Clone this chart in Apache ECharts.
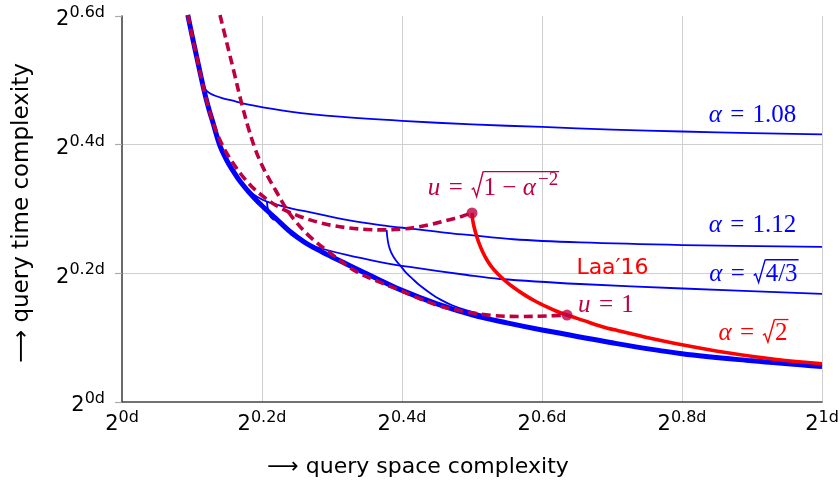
<!DOCTYPE html>
<html><head><meta charset="utf-8">
<script src="https://cdn.jsdelivr.net/npm/echarts@6/dist/echarts.min.js"></script>
<style>html,body{margin:0;padding:0;background:#fff}#c{width:840px;height:488px}</style>
</head><body><div id="c"></div>
<script>
// ---------- data (exponents of 2^{x d}) ----------
const xTickValues = [0, 0.2, 0.4, 0.6, 0.8, 1];
const xTickExps = ['0d', '0.2d', '0.4d', '0.6d', '0.8d', '1d'];
const yTickValues = [0, 0.2, 0.4, 0.6];
const yTickExps = ['0d', '0.2d', '0.4d', '0.6d'];

// lower envelope (thick blue)
const envX = [0.094, 0.1, 0.105, 0.11, 0.115, 0.12, 0.125, 0.13, 0.14, 0.15, 0.16, 0.17, 0.18, 0.19, 0.2, 0.22, 0.24, 0.26, 0.28, 0.3, 0.33, 0.36, 0.4, 0.45, 0.5, 0.55, 0.6, 0.7, 0.8, 0.9, 1.0];
const envY = [0.6016, 0.57, 0.545, 0.52, 0.495, 0.472, 0.452, 0.434, 0.398, 0.375, 0.357, 0.341, 0.328, 0.316, 0.305, 0.285, 0.265, 0.249, 0.2365, 0.2255, 0.2095, 0.194, 0.1735, 0.1525, 0.1355, 0.123, 0.112, 0.092, 0.075, 0.064, 0.055];

// alpha = 1.08
const a108X = [0.1143, 0.117, 0.121, 0.126, 0.133, 0.143, 0.154, 0.187, 0.24, 0.311, 0.4, 0.5, 0.6, 0.7, 0.8, 0.9, 1.0];
const a108Y = [0.497, 0.4885, 0.4835, 0.4795, 0.476, 0.4725, 0.4695, 0.461, 0.4515, 0.4435, 0.437, 0.4315, 0.4275, 0.4235, 0.4205, 0.418, 0.416];

// alpha = 1.12
const a112X = [0.179, 0.193, 0.207, 0.24, 0.273, 0.321, 0.369, 0.416, 0.464, 0.559, 0.654, 0.801, 1.0];
const a112Y = [0.330, 0.319, 0.3115, 0.3015, 0.294, 0.283, 0.275, 0.269, 0.263, 0.253, 0.248, 0.244, 0.241];
const a112HookX = [0.207, 0.2086, 0.2114, 0.2171];
const a112HookY = [0.311, 0.2985, 0.2891, 0.2829];

// alpha = sqrt(4/3)
const a43X = [0.24, 0.254, 0.273, 0.321, 0.369, 0.411, 0.493, 0.54, 0.654, 0.801, 1.0];
const a43Y = [0.261, 0.252, 0.2425, 0.2285, 0.2176, 0.210, 0.1974, 0.1912, 0.1834, 0.1764, 0.168];
const a43ArcX = [0.3781, 0.3788, 0.38, 0.3818, 0.3845, 0.388, 0.3925, 0.398, 0.405, 0.415, 0.4257, 0.44, 0.4543, 0.4724, 0.4924, 0.52];
const a43ArcY = [0.2674, 0.258, 0.249, 0.2405, 0.2325, 0.2255, 0.2185, 0.2115, 0.202, 0.1915, 0.181, 0.1695, 0.1595, 0.15, 0.1425, 0.1345];

// Laa'16, alpha = sqrt(2)
const laaX = [0.5, 0.501, 0.503, 0.506, 0.51, 0.515, 0.521, 0.528, 0.537, 0.548, 0.56, 0.575, 0.59, 0.607, 0.62, 0.6357, 0.66, 0.685, 0.71, 0.745, 0.8, 0.865, 0.935, 1.0];
const laaY = [0.2938, 0.283, 0.272, 0.26, 0.247, 0.234, 0.2215, 0.21, 0.199, 0.188, 0.1775, 0.1665, 0.157, 0.1478, 0.1415, 0.1352, 0.1265, 0.1175, 0.1105, 0.1015, 0.089, 0.0765, 0.066, 0.0595];

// u = sqrt(1 - alpha^-2) locus (dashed)
const uHighX = [0.094, 0.1, 0.105, 0.11, 0.115, 0.12, 0.125, 0.13, 0.14, 0.15, 0.16, 0.17, 0.18, 0.19, 0.2, 0.215, 0.235, 0.255, 0.28, 0.3, 0.325, 0.35, 0.375, 0.4, 0.42, 0.44, 0.465, 0.485, 0.5];
const uHighY = [0.6016, 0.57, 0.545, 0.52, 0.495, 0.472, 0.452, 0.434, 0.407, 0.386, 0.369, 0.354, 0.341, 0.33, 0.321, 0.309, 0.297, 0.288, 0.2795, 0.2745, 0.2705, 0.2682, 0.2675, 0.2688, 0.2715, 0.2758, 0.2825, 0.2885, 0.2938];

// u = 1 locus (dashed)
const uLowX = [0.14, 0.15, 0.16, 0.17, 0.18, 0.19, 0.2, 0.21, 0.22, 0.235, 0.25, 0.27, 0.3, 0.335, 0.37, 0.4, 0.4257, 0.4543, 0.4929, 0.53, 0.5686, 0.6071, 0.6357];
const uLowY = [0.6016, 0.557, 0.513, 0.468, 0.428, 0.394, 0.368, 0.347, 0.328, 0.300, 0.278, 0.2555, 0.2295, 0.2025, 0.1855, 0.1725, 0.1605, 0.1492, 0.1399, 0.1345, 0.1329, 0.1337, 0.1352];

// endpoints (dots)
const dotX = [0.5, 0.6357];
const dotY = [0.2938, 0.1352];

// ---------- styling ----------
const BLUE = '#0000ff', RED = '#ff0000', CRIMSON = '#bf0040';
const SANS = '"DejaVu Sans", sans-serif';
const SERIF = '"Liberation Serif", "DejaVu Serif", serif';

function pairs(xs, ys) { return xs.map((x, i) => [x, ys[i]]); }
function expFor(vals, exps, v) {
  const i = vals.findIndex(t => Math.abs(t - v) < 1e-6);
  return i < 0 ? '' : exps[i];
}
function lineSeries(xs, ys, color, width, z, dashed) {
  return {
    type: 'line', data: pairs(xs, ys), showSymbol: false, symbol: 'none', smooth: 0.35, z: z,
    lineStyle: { color: color, width: width, type: dashed ? [9, 5] : 'solid', cap: 'butt', join: 'round' },
    silent: true
  };
}
const tickRich = {
  b: { fontSize: 21, fontFamily: SANS, color: '#000', lineHeight: 21, padding: [8, 0, 0, 0] },
  s: { fontSize: 16, fontFamily: SANS, color: '#000', lineHeight: 16, padding: [0, 0, 6, 0] }
};

const chart = echarts.init(document.getElementById('c'), null, { renderer: 'canvas' });
chart.setOption({
  animation: false,
  backgroundColor: '#fff',
  grid: { left: 122, right: 18, top: 16, bottom: 86, containLabel: false, outerBoundsMode: 'none' },
  xAxis: {
    type: 'value', min: 0, max: 1, interval: 0.2,
    name: '\u27F6 query space complexity', nameLocation: 'middle', nameGap: 54,
    nameTextStyle: { fontSize: 22, fontFamily: SANS, color: '#000', padding: [0, 108, 0, 0] },
    axisLine: { show: true, lineStyle: { color: '#444', width: 1.6 } },
    axisTick: { show: false },
    splitLine: { show: true, showMinLine: false, lineStyle: { color: '#cfcfcf', width: 1 } },
    axisLabel: { margin: 8, formatter: v => '{b|2}{s|' + expFor(xTickValues, xTickExps, v) + '}', rich: tickRich }
  },
  yAxis: {
    type: 'value', min: 0, max: 0.6, interval: 0.2,
    name: '\u27F6 query time complexity', nameLocation: 'middle', nameGap: 88,
    nameTextStyle: { fontSize: 23, fontFamily: SANS, color: '#000', padding: [0, 8, 0, 0] },
    axisLine: { show: true, lineStyle: { color: '#444', width: 1.6 } },
    axisTick: { show: true, length: 7, lineStyle: { color: '#aaa', width: 1.2 } },
    splitLine: { show: true, showMinLine: false, showMaxLine: false, lineStyle: { color: '#cfcfcf', width: 1 } },
    axisLabel: { margin: 17, formatter: v => '{b|2}{s|' + expFor(yTickValues, yTickExps, v) + '}', rich: tickRich }
  },
  series: [
    lineSeries(envX, envY, BLUE, 5, 2),
    lineSeries(a108X, a108Y, BLUE, 1.8, 3),
    lineSeries(a112X, a112Y, BLUE, 1.8, 3),
    lineSeries(a112HookX, a112HookY, BLUE, 1.8, 3),
    lineSeries(a43X, a43Y, BLUE, 1.8, 3),
    lineSeries(a43ArcX, a43ArcY, BLUE, 1.8, 3),
    lineSeries(laaX, laaY, RED, 3.6, 4),
    lineSeries(uHighX, uHighY, CRIMSON, 3.6, 5, true),
    lineSeries(uLowX, uLowY, CRIMSON, 3.6, 5, true),
    { type: 'scatter', data: pairs(dotX, dotY), symbol: 'circle', symbolSize: 11, z: 6,
      itemStyle: { color: CRIMSON }, silent: true }
  ]
});

// ---------- annotations (math labels) ----------
const EQ = '\u2004=\u2004';
const annotations = [
  { at: [0.9007, 0.4454], color: BLUE, parts: [{ t: '\u03B1', it: 1 }, { t: EQ }, { t: '1.08' }] },
  { at: [0.9007, 0.2744], color: BLUE, parts: [{ t: '\u03B1', it: 1 }, { t: EQ }, { t: '1.12' }] },
  { at: [0.902, 0.199], color: BLUE, parts: [{ t: '\u03B1', it: 1 }, { t: EQ }, { rad: 1 }, { t: '4/3', over: 1 }] },
  { at: [0.9014, 0.106], color: RED, parts: [{ t: '\u03B1', it: 1 }, { t: EQ }, { rad: 1 }, { t: '2', over: 1 }] },
  { at: [0.6914, 0.1508], color: CRIMSON, parts: [{ t: 'u', it: 1 }, { t: EQ }, { t: '1' }] },
  { at: [0.53, 0.3326], color: CRIMSON, vinc: 0.66, parts: [{ t: 'u', it: 1 }, { t: EQ }, { rad: 1 }, { t: '1\u2005\u2212\u2005', over: 1 }, { t: '\u03B1\u200A', it: 1, over: 1 }, { t: '\u2212' + '2', sup: 1, over: 1 }] }
];
const sansNotes = [
  { at: [0.7007, 0.208], color: RED, text: 'Laa\u203216', size: 22 }
];

const ctx = document.createElement('canvas').getContext('2d');
function tw(t, font) { ctx.font = font; return ctx.measureText(t).width; }
function fnt(size, it) { return (it ? 'italic ' : '') + size + 'px ' + SERIF; }

function mathEls(a, size) {
  const [cx, cy] = chart.convertToPixel({ gridIndex: 0 }, a.at);
  const vinc = a.vinc || 0.57;
  const items = a.parts.map(p => {
    if (p.rad) return { p: p, w: size * 0.5 };
    const fs = p.sup ? Math.round(size * 0.75) : size;
    const f = fnt(fs, p.it);
    return { p: p, f: f, w: tw(p.t, f) };
  });
  const total = items.reduce((s, i) => s + i.w, 0);
  let x = cx - total / 2;
  const els = [];
  let o0 = null, o1 = null;
  for (const it of items) {
    if (it.p.rad) {
      const s = size;
      els.push({ type: 'polyline', silent: true, z: 100,
        shape: { points: [[x + 0.02 * s, cy + 0.06 * s], [x + 0.1 * s, cy + 0.0 * s], [x + 0.22 * s, cy + 0.34 * s], [x + 0.48 * s, cy - vinc * s]] },
        style: { stroke: a.color, lineWidth: 1.4, fill: null } });
      o0 = x + 0.48 * s;
    } else {
      const y = it.p.sup ? cy - size * 0.32 : cy;
      els.push({ type: 'text', x: x, y: y, silent: true, z: 100,
        style: { text: it.p.t, font: it.f, fill: a.color, align: 'left', verticalAlign: 'middle', textAlign: 'left', textVerticalAlign: 'middle' } });
      if (it.p.over) { o1 = x + it.w + 1; }
    }
    x += it.w;
  }
  if (o0 !== null && o1 !== null) {
    els.push({ type: 'line', silent: true, z: 100,
      shape: { x1: o0, y1: cy - vinc * size, x2: o1, y2: cy - vinc * size },
      style: { stroke: a.color, lineWidth: 1.3 } });
  }
  return els;
}

const gEls = [];
annotations.forEach(a => mathEls(a, 25).forEach(e => gEls.push(e)));
sansNotes.forEach(n => {
  const [cx, cy] = chart.convertToPixel({ gridIndex: 0 }, n.at);
  gEls.push({ type: 'text', x: cx, y: cy, silent: true, z: 100,
    style: { text: n.text, font: n.size + 'px ' + SANS, fill: n.color, align: 'center', verticalAlign: 'middle', textAlign: 'center', textVerticalAlign: 'middle' } });
});
chart.setOption({ graphic: { elements: gEls } });
</script>
</body></html>
